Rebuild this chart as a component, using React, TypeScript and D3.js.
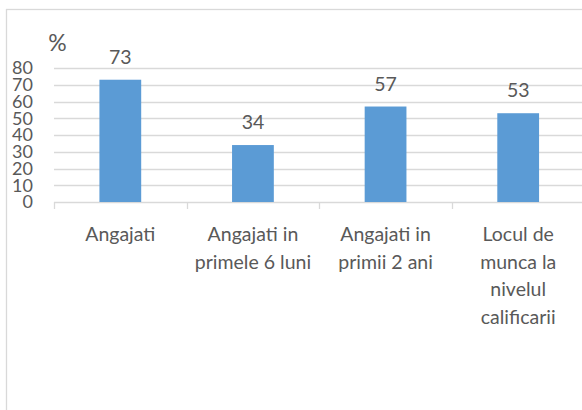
import React from "react";
import * as d3 from "d3";

const categories: string[] = [
  "Angajati",
  "Angajati in|primele 6 luni",
  "Angajati in|primii 2 ani",
  "Locul de|munca la|nivelul|calificarii",
];
const values: number[] = [73, 34, 57, 53];
const yTicks: number[] = [0, 10, 20, 30, 40, 50, 60, 70, 80];
const axisTitle = "%";

const W = 582;
const H = 410;
const FONT = "Lato, Carlito, Calibri, 'Open Sans', sans-serif";
const TXT = "#595959";
const GRID = "#d9d9d9";
const BAR = "#5b9bd5";

export default function App() {
  const x = d3.scaleBand<string>().domain(categories).range([54, 584.5]).padding(0);
  const y = d3.scaleLinear().domain([0, 80]).range([202, 68]);
  const bw = x.bandwidth() * 0.315;
  const boundaries = categories.map((c) => x(c) as number);

  return (
    <svg
      width={W}
      height={H}
      style={{ position: "fixed", left: 0, top: 0, background: "#fff" }}
      fontFamily={FONT}
    >
      <rect x={0} y={0} width={W} height={H} fill="#fff" />
      <rect x={6.5} y={9.5} width={W} height={H} fill="none" stroke={GRID} strokeWidth={1.3} />
      {yTicks.map((t) => (
        <line key={"g" + t} x1={54} x2={W} y1={Math.round(y(t)) + 0.5} y2={Math.round(y(t)) + 0.5} stroke={GRID} strokeWidth={1.3} />
      ))}
      {boundaries.map((b, i) => (
        <line key={"t" + i} x1={Math.round(b) + 0.5} x2={Math.round(b) + 0.5} y1={202} y2={209} stroke={GRID} strokeWidth={1.3} />
      ))}
      {yTicks.map((t) => (
        <text key={"yl" + t} x={33} y={y(t)} dy="0.36em" textAnchor="end" fontSize={18} fill={TXT}>
          {t}
        </text>
      ))}
      <text x={57.5} y={51} textAnchor="middle" fontSize={23} fill={TXT}>
        {axisTitle}
      </text>
      {categories.map((c, i) => {
        const cx = (x(c) as number) + x.bandwidth() / 2;
        const v = values[i];
        return (
          <g key={"b" + i}>
            <rect x={cx - bw / 2} y={y(v)} width={bw} height={y(0) - y(v)} fill={BAR} />
            <text x={cx} y={y(v) - 16} textAnchor="middle" fontSize={19.5} fill={TXT}>
              {v}
            </text>
            <text textAnchor="middle" fontSize={19.5} fill={TXT}>
              {c.split("|").map((line, j) => (
                <tspan key={j} x={cx} y={241 + j * 27.5}>
                  {line}
                </tspan>
              ))}
            </text>
          </g>
        );
      })}
    </svg>
  );
}
